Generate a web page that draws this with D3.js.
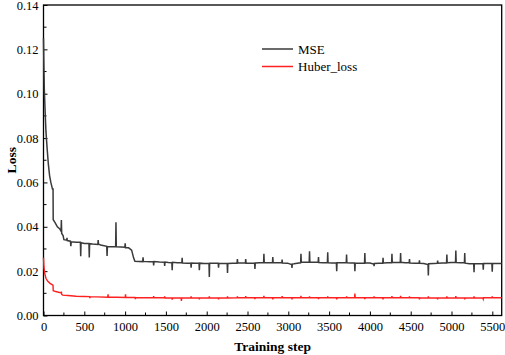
<!DOCTYPE html>
<html><head><meta charset="utf-8">
<script src="https://cdn.jsdelivr.net/npm/d3@7"></script>
<style>
html,body{margin:0;padding:0;background:#fff;}
svg text{font-family:"Liberation Serif","Times New Roman",serif;}
</style></head>
<body>
<svg id="c" width="505" height="355"></svg>
<script>
const xTicks = [0,500,1000,1500,2000,2500,3000,3500,4000,4500,5000,5500];
const yTicks = [0.00,0.02,0.04,0.06,0.08,0.10,0.12,0.14];
const seriesNames = ["MSE","Huber_loss"];

const mseSteps = [0,5,10,20,30,45,60,75,90,110,117,119,140,170,200,215,219,223,240,250,285,288,291,330,335,340,400,452,456,460,500,557,561,565,600,666,670,674,700,775,779,783,820,884,888,892,950,997,1001,1005,1043,1080,1104,1120,1170,1216,1220,1224,1300,1346,1350,1354,1420,1481,1485,1489,1530,1573,1577,1581,1640,1695,1699,1703,1760,1805,1809,1813,1860,1906,1910,1914,1970,2028,2032,2036,2090,2141,2145,2149,2200,2251,2255,2259,2320,2372,2376,2380,2430,2474,2478,2482,2540,2587,2591,2595,2650,2697,2701,2705,2760,2806,2810,2814,2870,2920,2924,2928,2990,3041,3045,3049,3070,3110,3151,3155,3159,3210,3256,3260,3264,3320,3366,3370,3374,3430,3479,3483,3487,3540,3589,3593,3597,3650,3710,3714,3718,3770,3812,3816,3820,3880,3934,3938,3942,4000,4047,4051,4055,4110,4157,4161,4165,4220,4266,4270,4274,4330,4372,4376,4380,4430,4481,4485,4489,4550,4603,4607,4611,4660,4712,4716,4720,4780,4826,4830,4834,4890,4939,4943,4947,5000,5049,5053,5057,5110,5158,5162,5166,5220,5272,5276,5280,5330,5385,5389,5393,5440,5495,5499,5503,5560,5615];
const mseValues = [0.125,0.112,0.102,0.092,0.083,0.075,0.068,0.063,0.060,0.057,0.057,0.0432,0.042,0.040,0.039,0.038,0.043,0.037,0.036,0.0342,0.0340,0.0350,0.0338,0.0335,0.0312,0.0332,0.0330,0.0330,0.0267,0.0328,0.0325,0.0325,0.0262,0.0324,0.0322,0.0320,0.0340,0.0322,0.0318,0.0312,0.0268,0.0310,0.0310,0.0310,0.0420,0.0310,0.0309,0.0308,0.0325,0.0305,0.0305,0.0295,0.0260,0.0245,0.0244,0.0243,0.0262,0.0244,0.0242,0.0242,0.0226,0.0243,0.0241,0.0240,0.0224,0.0241,0.0239,0.0238,0.0204,0.0240,0.0238,0.0238,0.0260,0.0237,0.0236,0.0236,0.0215,0.0237,0.0236,0.0236,0.0204,0.0236,0.0235,0.0235,0.0174,0.0236,0.0236,0.0236,0.0215,0.0235,0.0234,0.0234,0.0192,0.0235,0.0236,0.0236,0.0255,0.0238,0.0237,0.0237,0.0255,0.0236,0.0236,0.0236,0.0210,0.0237,0.0238,0.0238,0.0278,0.0239,0.0238,0.0238,0.0264,0.0238,0.0238,0.0238,0.0252,0.0237,0.0236,0.0230,0.0215,0.0232,0.0233,0.0236,0.0238,0.0278,0.0240,0.0240,0.0240,0.0290,0.0241,0.0240,0.0240,0.0264,0.0239,0.0238,0.0238,0.0285,0.0238,0.0237,0.0237,0.0200,0.0238,0.0238,0.0238,0.0275,0.0238,0.0237,0.0237,0.0200,0.0236,0.0236,0.0236,0.0282,0.0237,0.0237,0.0232,0.0222,0.0235,0.0236,0.0236,0.0260,0.0237,0.0238,0.0238,0.0278,0.0239,0.0239,0.0239,0.0282,0.0240,0.0238,0.0238,0.0255,0.0237,0.0236,0.0236,0.0249,0.0235,0.0234,0.0230,0.0180,0.0233,0.0234,0.0235,0.0248,0.0236,0.0237,0.0237,0.0275,0.0238,0.0239,0.0239,0.0293,0.0239,0.0238,0.0238,0.0282,0.0236,0.0233,0.0233,0.0195,0.0233,0.0233,0.0233,0.0207,0.0234,0.0234,0.0234,0.0197,0.0234,0.0234,0.0234];

const huberSteps = [0,5,15,30,50,80,110,117,119,150,215,219,223,235,300,400,500,565,568,571,650,787,791,795,900,1001,1005,1009,1100,1122,1126,1130,1250,1346,1350,1354,1481,1485,1489,1573,1577,1581,1686,1690,1694,1805,1809,1813,1906,1910,1914,2028,2032,2036,2141,2145,2149,2251,2255,2259,2372,2376,2380,2474,2478,2482,2587,2591,2595,2697,2701,2705,2806,2810,2814,2920,2924,2928,3041,3045,3049,3151,3155,3159,3256,3260,3264,3366,3370,3374,3479,3483,3487,3589,3593,3597,3710,3714,3718,3812,3816,3820,3934,3938,3942,4047,4051,4055,4157,4161,4165,4266,4270,4274,4372,4376,4380,4481,4485,4489,4603,4607,4611,4712,4716,4720,4826,4830,4834,4939,4943,4947,5049,5053,5057,5158,5162,5166,5272,5276,5280,5385,5389,5393,5495,5499,5503,5615];
const huberValues = [0.026,0.022,0.019,0.0168,0.0155,0.0145,0.0138,0.0136,0.0112,0.0108,0.0102,0.0108,0.0095,0.0092,0.0090,0.0087,0.0086,0.0085,0.0078,0.0085,0.0084,0.0082,0.0096,0.0082,0.0082,0.0081,0.0095,0.0081,0.0081,0.0081,0.0074,0.0080,0.0080,0.0080,0.0087,0.0080,0.0080,0.0086,0.0079,0.0079,0.0072,0.0079,0.0079,0.0066,0.0079,0.0079,0.0086,0.0079,0.0079,0.0073,0.0079,0.0079,0.0086,0.0079,0.0079,0.0073,0.0079,0.0079,0.0086,0.0079,0.0080,0.0086,0.0080,0.0080,0.0087,0.0080,0.0080,0.0074,0.0080,0.0080,0.0089,0.0080,0.0080,0.0073,0.0080,0.0080,0.0087,0.0080,0.0080,0.0073,0.0080,0.0080,0.0088,0.0080,0.0080,0.0086,0.0080,0.0080,0.0074,0.0080,0.0080,0.0086,0.0080,0.0080,0.0073,0.0080,0.0080,0.0086,0.0080,0.0080,0.0099,0.0081,0.0080,0.0074,0.0080,0.0080,0.0086,0.0080,0.0080,0.0073,0.0080,0.0080,0.0087,0.0080,0.0081,0.0088,0.0080,0.0080,0.0086,0.0080,0.0080,0.0073,0.0079,0.0079,0.0086,0.0079,0.0079,0.0073,0.0079,0.0079,0.0086,0.0079,0.0079,0.0087,0.0079,0.0079,0.0073,0.0079,0.0079,0.0086,0.0079,0.0079,0.0074,0.0080,0.0080,0.0086,0.0080,0.0080,0.0074,0.0079,0.0079,0.0085,0.0079,0.0079];

const FONT = "Liberation Serif, Times New Roman, serif";
const svg = d3.select("#c");
const L = 43.5, R = 501.7, T = 5, B = 315.5;
const x = d3.scaleLinear().domain([0,5615]).range([L,R]);
const y = d3.scaleLinear().domain([0,0.14]).range([B,T]);

// frame
svg.append("rect").attr("x",L).attr("y",T).attr("width",R-L).attr("height",B-T)
  .attr("fill","none").attr("stroke","#000").attr("stroke-width",1.3);

// x axis
const xAxis = d3.axisBottom(x).tickValues(xTicks).tickFormat(d3.format("d")).tickSize(-4).tickPadding(7);
const gx = svg.append("g").attr("transform",`translate(0,${B})`).call(xAxis)
  .attr("font-family",FONT).attr("font-size",12);
gx.select(".domain").remove();
gx.selectAll("text").attr("font-family",FONT).attr("font-size",12.5).attr("fill","#000");
const xMinor = d3.range(250,5615,500);
gx.selectAll(".minor").data(xMinor).enter().append("line")
  .attr("x1",d=>x(d)).attr("x2",d=>x(d)).attr("y1",0).attr("y2",-3).attr("stroke","#000");

// y axis
const yAxis = d3.axisLeft(y).tickValues(yTicks).tickFormat(d3.format(".2f")).tickSize(-4).tickPadding(5);
const gy = svg.append("g").attr("transform",`translate(${L},0)`).call(yAxis)
  .attr("font-family",FONT).attr("font-size",12);
gy.select(".domain").remove();
gy.selectAll("text").attr("font-family",FONT).attr("font-size",12.5).attr("fill","#000");
const yMinor = [0.01,0.03,0.05,0.07,0.09,0.11,0.13];
gy.selectAll(".minor").data(yMinor).enter().append("line")
  .attr("x1",0).attr("x2",3).attr("y1",d=>y(d)).attr("y2",d=>y(d)).attr("stroke","#000");

// titles
svg.append("text").attr("x",(L+R)/2).attr("y",351).attr("text-anchor","middle")
  .attr("font-family",FONT).attr("font-size",13.5).attr("font-weight","bold").text("Training step");
svg.append("text").attr("transform",`translate(16,${(T+B)/2}) rotate(-90)`).attr("text-anchor","middle")
  .attr("font-family",FONT).attr("font-size",13.5).attr("font-weight","bold").text("Loss");

// lines
const mse = mseSteps.map((s,i)=>[s,mseValues[i]]);
const hub = huberSteps.map((s,i)=>[s,huberValues[i]]);
const line = d3.line().x(d=>x(d[0])).y(d=>y(d[1]));
svg.append("path").attr("d",line(hub)).attr("fill","none").attr("stroke","#ff2020").attr("stroke-width",1.4);
svg.append("path").attr("d",line(mse)).attr("fill","none").attr("stroke","#3a3a3a").attr("stroke-width",1.5);

// legend
const colors = ["#3a3a3a","#ff2020"];
seriesNames.forEach((n,i)=>{
  const yy = 49 + i*17.5;
  svg.append("line").attr("x1",262).attr("x2",293).attr("y1",yy).attr("y2",yy)
    .attr("stroke",colors[i]).attr("stroke-width",1.5);
  svg.append("text").attr("x",298).attr("y",yy+4.5).attr("font-family",FONT).attr("font-size",13).text(n);
});
</script>
</body></html>
